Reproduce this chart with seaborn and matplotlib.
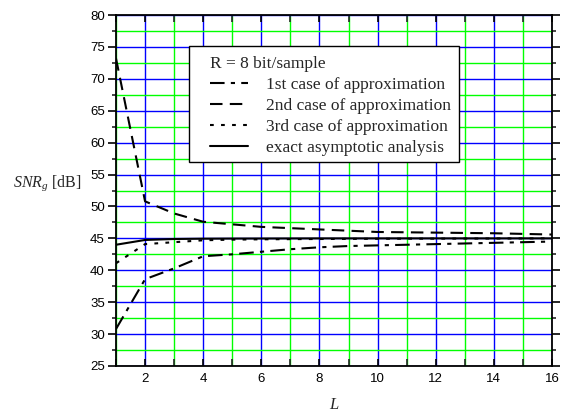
import matplotlib
matplotlib.use("Agg")
import matplotlib.pyplot as plt
import seaborn as sns
import numpy as np
from matplotlib.ticker import MultipleLocator
from matplotlib.patches import Rectangle

L = [1, 2, 3, 4, 5, 6, 7, 8, 9, 10, 11, 12, 13, 14, 15, 16]
case1 = [30.8, 38.6, 40.3, 42.2, 42.5, 42.9, 43.3, 43.6, 43.8, 43.9, 44.0, 44.1, 44.2, 44.3, 44.4, 44.5]
case2 = [73.2, 50.8, 48.9, 47.6, 47.2, 46.8, 46.6, 46.4, 46.2, 46.0, 45.95, 45.9, 45.85, 45.8, 45.7, 45.6]
case3 = [41.1, 44.1, 44.4, 44.7, 44.8, 44.85, 44.88, 44.9, 44.92, 44.94, 44.95, 44.96, 44.97, 44.98, 44.99, 45.0]
exact = [44.0, 44.75, 44.9, 44.95, 44.97, 44.98, 44.99, 45.0, 45.0, 45.0, 45.0, 45.0, 45.0, 45.0, 45.0, 45.0]

labels = ["1st case of approximation", "2nd case of approximation",
          "3rd case of approximation", "exact asymptotic analysis"]
legend_title = "R = 8 bit/sample"
x_ticks = [2, 4, 6, 8, 10, 12, 14, 16]
y_ticks = [25, 30, 35, 40, 45, 50, 55, 60, 65, 70, 75, 80]

sns.set_style("white")
plt.rcParams['font.family'] = ['Liberation Sans', 'DejaVu Sans']
plt.rcParams['mathtext.fontset'] = 'custom'
plt.rcParams['mathtext.it'] = 'Liberation Serif:italic'
plt.rcParams['mathtext.rm'] = 'Liberation Serif'

fig = plt.figure(figsize=(5.61, 4.12), dpi=100)
ax = fig.add_axes([116/561, 1-366/412, 436/561, 351/412])

styles = [(0, (7, 3, 2, 3)), (0, (6, 3.5)), (0, (1.8, 3.5)), '-']
for vals, lab, ls in zip([case1, case2, case3, exact], labels, styles):
    sns.lineplot(x=L, y=vals, ax=ax, color='black', linestyle=ls, linewidth=1.5, label=lab)

ax.set_xlim(1, 16)
ax.set_ylim(25, 80)
ax.set_xticks(x_ticks)
ax.set_yticks(y_ticks)
ax.xaxis.set_minor_locator(MultipleLocator(1))
ax.yaxis.set_minor_locator(MultipleLocator(2.5))
ax.grid(which='major', color='#0000ff', linewidth=1.0, zorder=0)
ax.grid(which='minor', color='#00ff00', linewidth=1.0, zorder=0)
ax.set_axisbelow(True)

for s in ax.spines.values():
    s.set_visible(True)
    s.set_color('black')
    s.set_linewidth(1.3)

ax.tick_params(axis='x', which='major', direction='in', length=5, width=1.2,
               top=True, bottom=True, labelsize=9.5, pad=5, colors='black')
ax.tick_params(axis='x', which='minor', direction='in', length=5, width=1.2,
               top=True, bottom=True)
ax.tick_params(axis='y', which='major', direction='out', length=6, width=1.2,
               left=True, right=True, labelsize=9.5, pad=2, colors='black')
ax.tick_params(axis='y', which='minor', direction='out', length=3, width=1.2,
               left=True, right=True)

ax.set_xlabel("$L$", fontsize=12, va='center')
ax.xaxis.set_label_coords(0.5, -0.11)
ax.set_ylabel("$SNR_g$ [dB]", rotation=0, fontsize=11.5, family='Liberation Serif',
              ha='center', va='center')
ax.yaxis.set_label_coords(-0.158, 0.521)

# legend frame
frame = Rectangle((0.167, 0.581), 0.62, 0.331, transform=ax.transAxes,
                  facecolor='white', edgecolor='black', linewidth=1.0, zorder=4)
ax.add_patch(frame)

leg = ax.legend(title=legend_title, loc='upper left',
                bbox_to_anchor=(0.216, 0.884), frameon=False,
                handlelength=2.2, handletextpad=1.0, borderpad=0,
                labelspacing=0.28, alignment='left',
                prop={'family': 'Liberation Serif', 'size': 12.5},
                title_fontproperties={'family': 'Liberation Serif', 'size': 12.5},
                borderaxespad=0)
leg.set_zorder(5)

fig.savefig("out.png", dpi=100)
